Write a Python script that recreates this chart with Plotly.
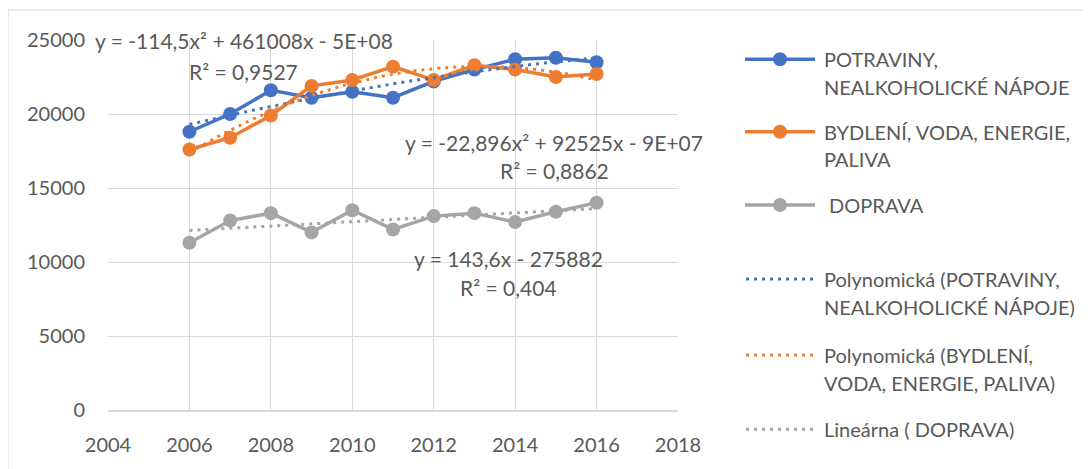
import numpy as np
import plotly.graph_objects as go

years = [2006, 2007, 2008, 2009, 2010, 2011, 2012, 2013, 2014, 2015, 2016]
potraviny = [18800, 20000, 21600, 21100, 21500, 21100, 22200, 23000, 23700, 23800, 23500]
bydleni = [17600, 18400, 19900, 21900, 22300, 23200, 22300, 23300, 23000, 22500, 22700]
doprava = [11300, 12800, 13300, 12000, 13500, 12200, 13100, 13300, 12700, 13400, 14000]

series_names = ["POTRAVINY,<br>NEALKOHOLICKÉ NÁPOJE", "BYDLENÍ, VODA, ENERGIE,<br>PALIVA", " DOPRAVA"]
trend_names = ["Polynomická (POTRAVINY,<br>NEALKOHOLICKÉ NÁPOJE)",
               "Polynomická (BYDLENÍ,<br>VODA, ENERGIE, PALIVA)",
               "Lineárna ( DOPRAVA)"]
equations = [("y = -114,5x² + 461008x - 5E+08", "R² = 0,9527"),
             ("y = -22,896x² + 92525x - 9E+07", "R² = 0,8862"),
             ("y = 143,6x - 275882", "R² = 0,404")]
x_ticks = [2004, 2006, 2008, 2010, 2012, 2014, 2016, 2018]
y_ticks = [0, 5000, 10000, 15000, 20000, 25000]

colors = ["#4472C4", "#ED7D31", "#A5A5A5"]
TXT = "#595959"
GRID = "#D9D9D9"
FONT = "Lato"

OFF = 8  # page body offset
W, H = 1091 - OFF, 469 - OFF
L, R, T, B = 108, 678, 40, 410  # plot area in screen pixels


def px(xp):
    return (xp - L) / (R - L)


def py(yp):
    return (B - yp) / (B - T)


fig = go.Figure()
data = [potraviny, bydleni, doprava]
for vals, c, n in zip(data, colors, series_names):
    fig.add_trace(go.Scatter(x=years, y=vals, mode="lines+markers", name=n,
                             line=dict(color=c, width=3.5),
                             marker=dict(color=c, size=14), showlegend=False))

xs = np.linspace(years[0], years[-1], 121)
degs = [2, 2, 1]
for vals, c, n, d in zip(data, colors, trend_names, degs):
    coef = np.polyfit(np.array(years, float), np.array(vals, float), d)
    fig.add_trace(go.Scatter(x=xs, y=np.polyval(coef, xs), mode="lines", name=n,
                             line=dict(color=c, width=3, dash="3px,5px"),
                             showlegend=False, hoverinfo="skip"))

annotations = []
shapes = []

# equation labels (screen pixel positions -> paper)
eq_pos = [(243.5, 40, 71), (554, 142, 170), (508.5, 258, 287)]
for (e1, e2), (cx, y1, y2) in zip(equations, eq_pos):
    for t, yy in ((e1, y1), (e2, y2)):
        annotations.append(dict(text=t, x=px(cx), y=py(yy), xref="paper", yref="paper",
                                xanchor="center", yanchor="middle", showarrow=False,
                                font=dict(family=FONT, size=21, color=TXT)))

# custom legend
leg_rows = [59.3, 131.7, 205, 279, 355, 429.3]
leg_names = series_names + trend_names
leg_cols = colors + colors
for i, (yy, name, c) in enumerate(zip(leg_rows, leg_names, leg_cols)):
    if i < 3:
        shapes.append(dict(type="line", xref="paper", yref="paper",
                           x0=px(745), x1=px(815), y0=py(yy), y1=py(yy),
                           line=dict(color=c, width=3.5)))
        shapes.append(dict(type="circle", xref="paper", yref="paper",
                           xsizemode="pixel", ysizemode="pixel",
                           xanchor=px(780), yanchor=py(yy),
                           x0=-7, x1=7, y0=-7, y1=7,
                           fillcolor=c, line=dict(width=0)))
    else:
        shapes.append(dict(type="line", xref="paper", yref="paper",
                           x0=px(746), x1=px(814), y0=py(yy), y1=py(yy),
                           line=dict(color=c, width=3, dash="3px,5px")))
    for j, part in enumerate(name.split("<br>")):
        annotations.append(dict(text=part, x=px(822), y=py(yy + 27.5 * j),
                                xref="paper", yref="paper", xanchor="left",
                                yanchor="middle", showarrow=False,
                                font=dict(family=FONT, size=20, color=TXT)))

# chart border
shapes.append(dict(type="rect", xref="paper", yref="paper", layer="below",
                   x0=px(8), x1=px(1100), y0=py(10), y1=py(490),
                   line=dict(color=GRID, width=1)))

fig.update_layout(
    width=W, height=H,
    margin=dict(l=L - OFF, r=W - (R - OFF), t=T - OFF, b=H - (B - OFF), pad=0),
    paper_bgcolor="white", plot_bgcolor="white",
    font=dict(family=FONT, size=20, color=TXT),
    showlegend=False,
    annotations=annotations, shapes=shapes,
    xaxis=dict(range=[2004, 2018], tickvals=x_ticks, ticktext=[str(v) for v in x_ticks],
               showgrid=True, gridcolor=GRID, gridwidth=1, zeroline=False,
               showline=True, linecolor=GRID, linewidth=1.5, ticks="",
               ticklabelstandoff=16, tickfont=dict(family=FONT, size=20, color=TXT)),
    yaxis=dict(range=[0, 25000], tickvals=y_ticks, ticktext=[str(v) for v in y_ticks],
               showgrid=True, gridcolor=GRID, gridwidth=1, zeroline=False,
               showline=False, ticks="", ticklabelstandoff=22,
               tickfont=dict(family=FONT, size=20, color=TXT)),
)

fig.write_html("out.html")
